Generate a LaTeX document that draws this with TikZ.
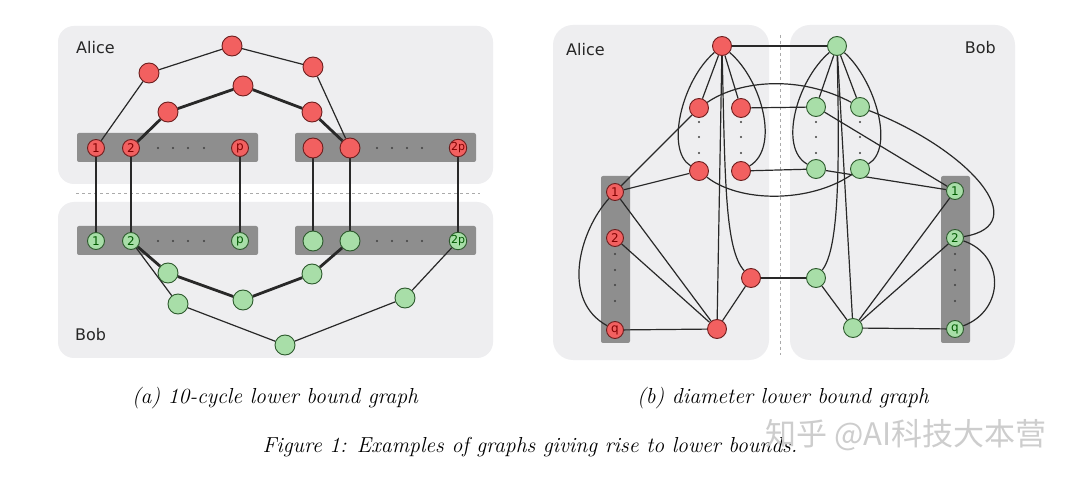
\documentclass[tikz,border=0pt]{standalone}
\usepackage{fontspec}
\newfontfamily\dejavu{DejaVu Sans}
\newfontfamily\cjkfont{Noto Sans CJK SC}
\definecolor{bgc}{RGB}{238,238,240}
\definecolor{barc}{RGB}{142,142,142}
\definecolor{rfill}{RGB}{242,96,96}
\definecolor{rdraw}{RGB}{110,30,30}
\definecolor{rtext}{RGB}{130,0,0}
\definecolor{gfill}{RGB}{168,222,168}
\definecolor{gdraw}{RGB}{45,90,45}
\definecolor{gtext}{RGB}{0,90,0}
\definecolor{edgec}{RGB}{40,40,40}
\definecolor{dashc}{RGB}{170,170,170}
\definecolor{wmc}{RGB}{205,205,205}
\pgfdeclarelayer{bg}
\pgfdeclarelayer{edges}
\pgfsetlayers{bg,edges,main}
\tikzset{
 vtx/.style={circle, inner sep=0pt, line width=0.9pt, font=\dejavu\fontsize{12}{12}\selectfont},
 rv/.style={vtx, fill=rfill, draw=rdraw, text=rtext},
 gv/.style={vtx, fill=gfill, draw=gdraw, text=gtext},
 vbg/.style={minimum size=20pt},
 vsm/.style={minimum size=17pt},
 vmd/.style={minimum size=19pt},
 narrowlab/.style={font=\dejavu\fontsize{11}{11}\selectfont},
 edg/.style={draw=edgec, line width=1.2pt},
 thk/.style={draw=edgec, line width=2.8pt},
 dotc/.style={fill=black!75},
 barbox/.style={fill=barc, rounded corners=2pt},
 panel/.style={fill=bgc, rounded corners=16pt},
 who/.style={font=\dejavu\fontsize{16}{16}\selectfont, text=black!85, inner sep=0pt},
 captext/.style={font=\fontsize{21.7}{22}\selectfont\itshape, inner sep=0pt},
}
\begin{document}
\begin{tikzpicture}[x=1pt,y=-1pt]
\begin{pgfonlayer}{bg}
\useasboundingbox[fill=white] (0,0) rectangle (1080,481);
% panel (a) backgrounds
\fill[panel] (58,26) rectangle (493,184);
\fill[panel] (58,202) rectangle (493,358);
\draw[dashc, dashed, line width=0.8pt] (76,193) -- (480,193);
\fill[barbox] (77,133) rectangle (258,162);
\fill[barbox] (295,133) rectangle (476,162);
\fill[barbox] (77,226) rectangle (258,255);
\fill[barbox] (295,226) rectangle (476,255);
% panel (b) backgrounds
\fill[panel, rounded corners=20pt] (553,25) rectangle (769,360);
\fill[panel, rounded corners=20pt] (790,25) rectangle (1015,360);
\draw[dashc, dashed, line width=0.8pt] (780,35) -- (780,355);
\fill[barbox] (601,176) rectangle (630,343);
\fill[barbox] (941,176) rectangle (970,343);
\end{pgfonlayer}
% ---------- panel (a) ----------
\foreach \y in {148,241}{
  \foreach \x in {158,173,188,204,377,392,407,422}{\fill[dotc] (\x,\y) circle (1.1pt);}
}
\node[who, anchor=west] (aAlice) at (76,48) {Alice};
\node[who, anchor=west] (aBob) at (75,335) {Bob};
% Alice (a)
\node[rv,vsm] (a1) at (96,148) {1};
\node[rv,vsm] (a2) at (131,148) {2};
\node[rv,vsm] (ap) at (240,148) {p};
\node[rv,vbg] (a3) at (313,148) {};
\node[rv,vbg] (a4) at (350,148) {};
\node[rv,vsm,narrowlab] (a2p) at (458,148) {2p};
\node[rv,vbg] (ao1) at (149,73) {};
\node[rv,vbg] (ao2) at (232,46) {};
\node[rv,vbg] (ao3) at (313,67) {};
\node[rv,vbg] (ai1) at (168,112) {};
\node[rv,vbg] (ai2) at (243,86) {};
\node[rv,vbg] (ai3) at (312,112) {};
% Bob (a)
\node[gv,vsm] (b1) at (96,241) {1};
\node[gv,vsm] (b2) at (131,241) {2};
\node[gv,vsm] (bp) at (240,241) {p};
\node[gv,vbg] (b3) at (313,241) {};
\node[gv,vbg] (b4) at (350,241) {};
\node[gv,vsm,narrowlab] (b2p) at (458,241) {2p};
\node[gv,vbg] (bi1) at (168,273) {};
\node[gv,vbg] (bi2) at (243,300) {};
\node[gv,vbg] (bi3) at (312,274) {};
\node[gv,vbg] (bo1) at (178,304) {};
\node[gv,vbg] (bo2) at (285,345) {};
\node[gv,vbg] (bo3) at (405,298) {};
\begin{pgfonlayer}{edges}
\draw[edg] (a1) -- (ao1) -- (ao2) -- (ao3) -- (a4);
\draw[thk] (a2) -- (ai1) -- (ai2) -- (ai3) -- (a4);
\draw[edg] (a1) -- (b1);
\draw[thk] (a2) -- (b2);
\draw[edg] (ap) -- (bp);
\draw[edg] (a3) -- (b3);
\draw[thk] (a4) -- (b4);
\draw[edg] (a2p) -- (b2p);
\draw[thk] (b2) -- (bi1) -- (bi2) -- (bi3) -- (b4);
\draw[edg] (b2) -- (bo1) -- (bo2) -- (bo3) -- (b2p);
\end{pgfonlayer}
% ---------- panel (b) ----------
\foreach \x in {699,741,816,860}{
  \foreach \y in {122,137,153}{\fill[dotc] (\x,\y) circle (1.1pt);}
}
\foreach \x in {615,955}{
  \foreach \y in {254,270,285,301}{\fill[dotc] (\x,\y) circle (1.1pt);}
}
\node[who, anchor=west] (bAlice) at (566,50) {Alice};
\node[who, anchor=east] (bBob) at (996,48) {Bob};
% Alice (b)
\node[rv,vmd] (TA) at (722,46) {};
\node[rv,vmd] (Al1) at (699,108) {};
\node[rv,vmd] (Ar1) at (741,108) {};
\node[rv,vmd] (Al2) at (699,171) {};
\node[rv,vmd] (Ar2) at (741,171) {};
\node[rv,vsm] (A1) at (615,192) {1};
\node[rv,vsm] (A2) at (615,238) {2};
\node[rv,vsm] (Aq) at (615,330) {q};
\node[rv,vmd] (Am) at (751,278) {};
\node[rv,vmd] (Ab) at (717,329) {};
% Bob (b)
\node[gv,vmd] (TB) at (837,46) {};
\node[gv,vmd] (Bl1) at (816,107) {};
\node[gv,vmd] (Br1) at (860,107) {};
\node[gv,vmd] (Bl2) at (816,169) {};
\node[gv,vmd] (Br2) at (860,169) {};
\node[gv,vsm] (B1) at (955,191) {1};
\node[gv,vsm] (B2) at (955,238) {2};
\node[gv,vsm] (Bq) at (955,329) {q};
\node[gv,vmd] (Bm) at (816,278) {};
\node[gv,vmd] (Bb) at (853,328) {};
\begin{pgfonlayer}{edges}
% Alice side
\draw[edg] (TA) -- (TB);
\draw[edg] (TA) -- (Al1);
\draw[edg] (TA) -- (Ar1);
\draw[edg] (TA) .. controls (682,80) and (665,150) .. (Al2);
\draw[edg] (TA) .. controls (762,80) and (780,148) .. (Ar2);
\draw[edg] (TA) -- (Ab);
\draw[edg] (TA) .. controls (725,180) and (725,250) .. (Am);
\draw[edg] (A1) -- (Al1);
\draw[edg] (A1) -- (Al2);
\draw[edg] (A1) -- (Ab);
\draw[edg] (A2) -- (Ab);
\draw[edg] (Aq) -- (Ab);
\draw[edg] (Am) -- (Ab);
\draw[edg] (A1) .. controls (580,230) and (560,300) .. (Aq);
% crossing
\draw[edg] (Ar1) -- (Bl1);
\draw[edg] (Ar2) -- (Bl2);
\draw[edg] (Am) -- (Bm);
\draw[edg] (Al1) .. controls (740,80) and (800,75) .. (Br1);
\draw[edg] (Al2) .. controls (740,203) and (810,203) .. (Br2);
% Bob side
\draw[edg] (TB) -- (Bl1);
\draw[edg] (TB) -- (Br1);
\draw[edg] (TB) .. controls (797,80) and (778,148) .. (Bl2);
\draw[edg] (TB) .. controls (875,80) and (895,148) .. (Br2);
\draw[edg] (TB) -- (Bb);
\draw[edg] (TB) .. controls (840,180) and (838,250) .. (Bm);
\draw[edg] (Bl1) -- (B1);
\draw[edg] (Bl2) -- (B1);
\draw[edg] (Br1) .. controls (970,150) and (1035,225) .. (B2);
\draw[edg] (B2) .. controls (1005,255) and (1005,310) .. (Bq);
\draw[edg] (B1) -- (Bb);
\draw[edg] (B2) -- (Bb);
\draw[edg] (Bq) -- (Bb);
\draw[edg] (Bm) -- (Bb);
\end{pgfonlayer}
% ---------- captions ----------
\node[captext] (capa) at (275,398) {(a) 10-cycle lower bound graph};
\node[captext] (capb) at (783,398) {(b) diameter lower bound graph};
\node[captext] (capfig) at (530,447) {Figure 1: Examples of graphs giving rise to lower bounds.};
\node[font=\cjkfont\fontsize{31}{31}\selectfont, text=wmc, inner sep=0pt] (wm) at (906,435) {知乎 @AI科技大本营};
\end{tikzpicture}
\end{document}
